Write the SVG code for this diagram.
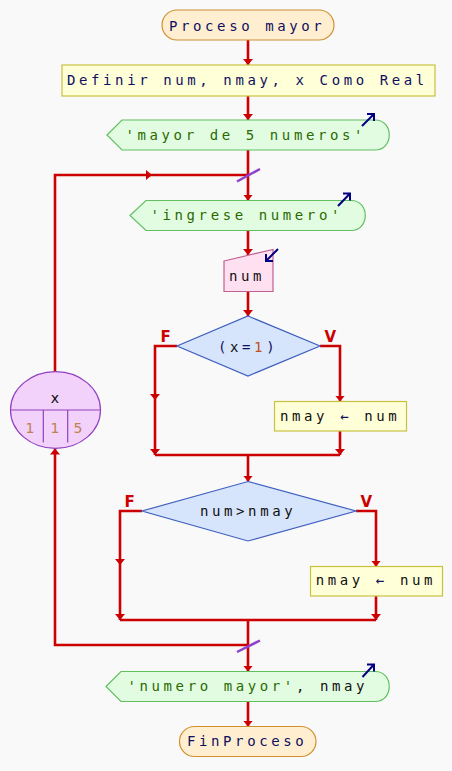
<svg xmlns="http://www.w3.org/2000/svg" width="452" height="771" viewBox="0 0 452 771">
<defs>
<marker id="ah" viewBox="0 0 6 10" markerWidth="6" markerHeight="10" refX="6" refY="5" orient="auto" markerUnits="userSpaceOnUse">
<path d="M0,0 L6,5 L0,10 Z" fill="#cc0000"/>
</marker>
<style>
.t{font-family:"DejaVu Sans Mono","Liberation Mono",monospace;font-size:14px;letter-spacing:3.6px;fill:#101060}
.k{fill:#101010}
.s{fill:#2a6a00}
.n{fill:#c05020}
.term{fill:#ffefd0;stroke:#d09030;stroke-width:1.2}
.proc{fill:#ffffd8;stroke:#c8c040;stroke-width:1.2}
.out{fill:#e2fce2;stroke:#60c060;stroke-width:1.2}
.inp{fill:#ffe0f0;stroke:#c06090;stroke-width:1.2}
.dec{fill:#d6e4fc;stroke:#4060c0;stroke-width:1.2}
.c{fill:none;stroke:#cc0000;stroke-width:2.6}
.a{marker-end:url(#ah)}
.lbl{font-family:"DejaVu Sans","Liberation Sans",sans-serif;font-size:15px;font-weight:bold;fill:#cc0000;text-anchor:middle}
.ico{fill:none;stroke:#000080;stroke-width:2}
.sl{stroke:#9040d0;stroke-width:2.5}
</style>
</defs>
<rect x="0" y="0" width="452" height="771" fill="#f9f9f9"/>
<g id="connectors">
<path class="c a" d="M248,40 V65"/>
<path class="c a" d="M248,96 V120"/>
<path class="c" d="M248,150 V175"/>
<path class="c a" d="M248,175 V200.5"/>
<path class="c a" d="M55,372 V175 H152"/>
<path class="c" d="M152,175 H248"/>
<path class="c a" d="M248,231 V255"/>
<path class="c a" d="M248,291.5 V316"/>
<path class="c a" d="M177,346 H155 V400"/>
<path class="c a" d="M155,400 V455"/>
<path class="c a" d="M320,346 H340 V401.5"/>
<path class="c a" d="M340,431 V455"/>
<path class="c" d="M155,455 H340"/>
<path class="c a" d="M248,455 V481.5"/>
<path class="c a" d="M142,511 H120 V565"/>
<path class="c a" d="M120,565 V620"/>
<path class="c a" d="M356,511 H376 V566.5"/>
<path class="c a" d="M376,596 V620"/>
<path class="c" d="M120,620 H376"/>
<path class="c" d="M248,620 V645"/>
<path class="c a" d="M248,645 V671.5"/>
<path class="c a" d="M248,645 H55 V448.5"/>
<path class="c a" d="M248,701.5 V726.5"/>
<line class="sl" x1="237" y1="181.5" x2="260" y2="169"/>
<line class="sl" x1="237" y1="652" x2="260" y2="640.5"/>
<text class="lbl" x="165.7" y="341.7">F</text>
<text class="lbl" x="330.2" y="341.7">V</text>
<text class="lbl" x="129.7" y="506.5">F</text>
<text class="lbl" x="366.3" y="506.5">V</text>
</g>
<g id="inicio">
<rect class="term" x="162" y="10" width="172" height="30" rx="15"/>
<text class="t" x="169" y="30.5">Proceso mayor</text>
</g>
<g id="definir">
<rect class="proc" x="62" y="65" width="373" height="31"/>
<text class="t" x="67" y="85">Definir num, nmay, x Como Real</text>
</g>
<g id="escribir1">
<path class="out" d="M107,135 L122,120 H375 C394,120 394,150 375,150 H122 Z"/>
<text class="t s" x="125.5" y="139.5">'mayor de 5 numeros'</text>
<path class="ico" d="M362,126 L374,114 M367,114 H374 V121"/>
</g>
<g id="escribir2">
<path class="out" d="M130,215.5 L146,200.5 H351 C370,200.5 370,230.5 351,230.5 H146 Z"/>
<text class="t s" x="150.5" y="220">'ingrese numero'</text>
<path class="ico" d="M338,206 L350,193.5 M343,193.5 H350 V200.5"/>
</g>
<g id="leer">
<polygon class="inp" points="224,261 273,249.5 273,291.5 224,291.5"/>
<text class="t k" x="229" y="281">num</text>
<path class="ico" d="M278,249 L266,261 M266,254 V261 H273"/>
</g>
<g id="si1">
<polygon class="dec" points="248,316 320,346 248,376 177,346"/>
<text class="t" x="218" y="351.5">(<tspan class="k">x</tspan>=<tspan class="n">1</tspan>)</text>
</g>
<g id="asig1">
<rect class="proc" x="274.5" y="401.5" width="132" height="29.5"/>
<text class="t k" x="280" y="421">nmay <tspan fill="#101060">←</tspan> num</text>
</g>
<g id="si2">
<polygon class="dec" points="248,481.5 356,511 248,541 142,511"/>
<text class="t k" x="200" y="516">num&gt;nmay</text>
</g>
<g id="asig2">
<rect class="proc" x="310.5" y="566.5" width="132" height="29.5"/>
<text class="t k" x="315.7" y="585">nmay <tspan fill="#101060">←</tspan> num</text>
</g>
<g id="para">
<ellipse cx="55.5" cy="410" rx="45" ry="38.3" fill="#f2d2fa" stroke="#9040c0" stroke-width="1.2"/>
<path d="M10.5,410 H100.5 M43.3,410 V442.5 M67.7,410 V442.5" stroke="#9040c0" stroke-width="1.2" fill="none"/>
<text x="55" y="403" font-family="DejaVu Sans" font-size="14" fill="#101010" text-anchor="middle">x</text>
<text x="30" y="433" font-family="DejaVu Sans" font-size="14" fill="#c08050" text-anchor="middle">1</text>
<text x="55" y="433" font-family="DejaVu Sans" font-size="14" fill="#c08050" text-anchor="middle">1</text>
<text x="78" y="433" font-family="DejaVu Sans" font-size="14" fill="#c08050" text-anchor="middle">5</text>
</g>
<g id="escribir3">
<path class="out" d="M106,686.5 L121,671.5 H375 C394,671.5 394,701.5 375,701.5 H121 Z"/>
<text class="t" x="127.5" y="691"><tspan class="s">'numero mayor'</tspan><tspan class="k">, nmay</tspan></text>
<path class="ico" d="M362.5,677 L374,664.5 M367,664.5 H374 V671.5"/>
</g>
<g id="fin">
<rect class="term" x="179.5" y="726.5" width="136.5" height="30" rx="15"/>
<text class="t" x="187" y="746">FinProceso</text>
</g>
</svg>
